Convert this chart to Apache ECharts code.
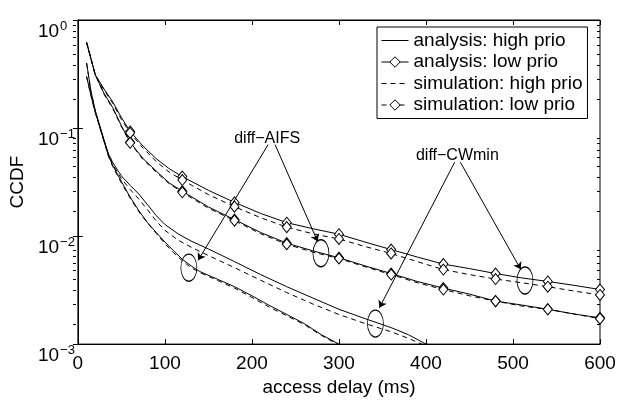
<!DOCTYPE html>
<html>
<head>
<meta charset="utf-8">
<script src="https://cdn.jsdelivr.net/npm/echarts@6/dist/echarts.min.js"></script>
<style>
html,body{margin:0;padding:0;background:#fff;}
#chart{width:619px;height:402px;}
</style>
</head>
<body>
<div id="chart"></div>
<script>
// ---------- data ----------
const xTickValues = [0, 100, 200, 300, 400, 500, 600];
const yDecades = [0.001, 0.01, 0.1, 1];

// low priority curves (diamond markers every 60 ms)
const lowX = [10, 20, 30, 40, 50, 60, 75, 90, 105, 120, 150, 180, 210, 240, 270, 300, 330, 360, 390, 420, 450, 480, 510, 540, 570, 600];
const cwLowAna  = [0.62, 0.31, 0.23, 0.175, 0.125, 0.093, 0.068, 0.052, 0.042, 0.0355, 0.0265, 0.0205, 0.0162, 0.0133, 0.0117, 0.0104, 0.0088, 0.0075, 0.0064, 0.0055, 0.0050, 0.0045, 0.0041, 0.0038, 0.0035, 0.0032];
const cwLowSim  = [0.62, 0.31, 0.225, 0.17, 0.12, 0.090, 0.065, 0.049, 0.039, 0.033, 0.0242, 0.0187, 0.0148, 0.0121, 0.0105, 0.0094, 0.0080, 0.0069, 0.0058, 0.0049, 0.0044, 0.0040, 0.0037, 0.0034, 0.0031, 0.00285];
const aifsLowAna = [0.62, 0.31, 0.21, 0.155, 0.105, 0.074, 0.052, 0.040, 0.031, 0.026, 0.0186, 0.0142, 0.0108, 0.0086, 0.0073, 0.0063, 0.0053, 0.0045, 0.0038, 0.0033, 0.0029, 0.0025, 0.0023, 0.0021, 0.0019, 0.00175];
const aifsLowSim = [0.62, 0.31, 0.205, 0.152, 0.103, 0.073, 0.051, 0.039, 0.0305, 0.0254, 0.0181, 0.0139, 0.0105, 0.0084, 0.0071, 0.0062, 0.0052, 0.0044, 0.0037, 0.0032, 0.0028, 0.0025, 0.00225, 0.0021, 0.0019, 0.00172];

// high priority curves (no markers)
const cwHighX = [10, 15, 20, 25, 30, 35, 40, 50, 60, 70, 80, 90, 100, 115, 130, 150, 180, 210, 240, 270, 300, 330, 360, 380, 400];
const cwHighAna = [0.40, 0.22, 0.145, 0.106, 0.078, 0.058, 0.048, 0.036, 0.0295, 0.0245, 0.0195, 0.0155, 0.0128, 0.0105, 0.0090, 0.0076, 0.0058, 0.0044, 0.0034, 0.00267, 0.0021, 0.00172, 0.00142, 0.00122, 0.00100];
const cwHighSim = [0.40, 0.215, 0.142, 0.103, 0.076, 0.057, 0.046, 0.034, 0.027, 0.022, 0.0175, 0.0138, 0.0113, 0.0092, 0.0079, 0.0066, 0.0051, 0.0039, 0.0030, 0.00235, 0.00188, 0.00155, 0.00130, 0.00113, 0.00096];
const aifsHighX = [10, 15, 20, 25, 30, 35, 40, 50, 60, 70, 80, 90, 100, 110, 120, 130, 140, 160, 180, 200, 220, 240, 260, 280, 300];
const aifsHighAna = [0.30, 0.20, 0.14, 0.104, 0.076, 0.056, 0.045, 0.032, 0.023, 0.0172, 0.0133, 0.0108, 0.0088, 0.0073, 0.0061, 0.0053, 0.0047, 0.0040, 0.0034, 0.0028, 0.00228, 0.00188, 0.00155, 0.00122, 0.00100];
const aifsHighSim = [0.30, 0.20, 0.138, 0.102, 0.075, 0.055, 0.044, 0.031, 0.0225, 0.0168, 0.0132, 0.0106, 0.0085, 0.0070, 0.0059, 0.0051, 0.0046, 0.0039, 0.0033, 0.0027, 0.0022, 0.00183, 0.00152, 0.00120, 0.00098];

const legendNames = ['analysis: high prio', 'analysis: low prio', 'simulation: high prio', 'simulation: low prio'];

// annotations in data coordinates [x, y]
const aifsLabel = [217.5, 0.0793];
const aifsArrows = [[[218.6, 0.0702], [138.1, 0.00596]], [[226.6, 0.0702], [275.5, 0.00891]]];
const aifsRings = [[127.5, 0.0051], [279.3, 0.00693]];
const cwLabel = [436.1, 0.0560];
const cwArrows = [[[433.0, 0.0483], [346.5, 0.00217]], [[439.5, 0.0483], [508.9, 0.00492]]];
const cwRings = [[341.9, 0.00155], [513.8, 0.00388]];

// ---------- chart ----------
const FONT = '"Liberation Sans", Arial, Helvetica, sans-serif';
const yMinor = [];
for (let d = -3; d < 0; d++) for (let k = 2; k <= 9; k++) yMinor.push(+(k * Math.pow(10, d)).toPrecision(3));

function pairs(xs, ys, markers) {
  return xs.map((x, i) => markers ? { value: [x, ys[i]], symbol: (x % 60 === 0) ? 'diamond' : 'none' } : [x, ys[i]]);
}
const dash = [5, 4];
function lineSeries(name, xs, ys, dashed, markers) {
  return {
    name: name, type: 'line', xAxisIndex: 0, yAxisIndex: 0,
    data: pairs(xs, ys, markers),
    symbol: markers ? 'diamond' : 'none',
    symbolSize: [9, 11],
    showSymbol: !!markers, showAllSymbol: true,
    lineStyle: { color: '#000', width: 1, type: dashed ? dash : 'solid' },
    itemStyle: { color: '#fff', borderColor: '#000', borderWidth: 1 },
    emphasis: { disabled: true },
    silent: true, z: 3
  };
}
const ellipsePath = 'path://M0,-1C0.5523,-1,1,-0.5523,1,0C1,0.5523,0.5523,1,0,1C-0.5523,1,-1,0.5523,-1,0C-1,-0.5523,-0.5523,-1,0,-1Z';

const yLabelFmt = function (v) {
  const e = Math.round(Math.log10(v));
  return '{b|10}{e|' + (e < 0 ? '\u2212' + (-e) : e) + '}';
};

const gridRect = { left: 73, top: 20, right: 19, bottom: 44 };
const option = {
  animation: false,
  backgroundColor: '#fff',
  textStyle: { fontFamily: FONT, color: '#000' },
  grid: [
    Object.assign({ show: true, borderColor: '#000', borderWidth: 1, backgroundColor: 'transparent', containLabel: false }, gridRect),
    Object.assign({ show: false }, gridRect)
  ],
  legend: {
    data: legendNames.map(n => n.indexOf('high') >= 0
      ? { name: n, itemStyle: { opacity: 0 }, lineStyle: { width: 1 } }
      : { name: n, itemStyle: { color: '#fff', borderColor: '#000', borderWidth: 1 }, lineStyle: { width: 1 } }),
    orient: 'vertical', left: 377, top: 27,
    itemWidth: 27, itemHeight: 13, itemGap: 2.5,
    padding: [4, 5, 4, 4],
    backgroundColor: '#fff', borderColor: '#000', borderWidth: 1, borderRadius: 0,
    selectedMode: false,
    lineStyle: { width: 1 },
    itemStyle: { borderWidth: 1 },
    textStyle: { fontFamily: FONT, fontSize: 19, color: '#000' }
  },
  xAxis: [
    { type: 'value', gridIndex: 0, position: 'bottom', min: 0, max: 600, interval: 100,
      name: 'access delay (ms)', nameLocation: 'middle', nameGap: 24,
      nameTextStyle: { fontFamily: FONT, fontSize: 19, color: '#000' },
      axisLine: { show: true, lineStyle: { color: '#000', width: 1 } },
      axisTick: { show: true, inside: true, length: 5, lineStyle: { color: '#000' }, customValues: xTickValues },
      axisLabel: { show: true, margin: 10, fontFamily: FONT, fontSize: 19, color: '#000', customValues: xTickValues, showMinLabel: true, showMaxLabel: true },
      splitLine: { show: false } },
    { type: 'value', gridIndex: 0, position: 'top', min: 0, max: 600, interval: 100,
      axisLine: { show: true, lineStyle: { color: '#000', width: 1 } },
      axisTick: { show: true, inside: true, length: 5, lineStyle: { color: '#000' } },
      axisLabel: { show: false }, splitLine: { show: false } },
    { type: 'value', gridIndex: 1, min: 0, max: 600, show: false }
  ],
  yAxis: [
    { type: 'log', logBase: 10, gridIndex: 0, position: 'left', min: 0.001, max: 1,
      name: 'CCDF', nameLocation: 'middle', nameGap: 50, nameRotate: 90,
      nameTextStyle: { fontFamily: FONT, fontSize: 19, color: '#000' },
      axisLine: { show: true, lineStyle: { color: '#000', width: 1 } },
      axisTick: { show: true, inside: true, length: 5, lineStyle: { color: '#000' }, customValues: yDecades },
      axisLabel: { show: true, align: 'left', margin: 40, color: '#000', customValues: yDecades,
        padding: [24, 0, 0, 0],
        formatter: yLabelFmt,
        rich: { b: { fontFamily: FONT, fontSize: 19, color: '#000' },
                e: { fontFamily: FONT, fontSize: 13, color: '#000', padding: [0, 0, 12, 1] } } },
      splitLine: { show: false } },
    { type: 'log', logBase: 10, gridIndex: 0, position: 'right', min: 0.001, max: 1,
      axisLine: { show: true, lineStyle: { color: '#000', width: 1 } },
      axisTick: { show: true, inside: true, length: 5, lineStyle: { color: '#000' }, customValues: yDecades },
      axisLabel: { show: false }, splitLine: { show: false } },
    { type: 'log', logBase: 10, gridIndex: 1, position: 'left', min: 0.001, max: 1,
      axisLine: { show: false },
      axisTick: { show: true, inside: true, length: 3, lineStyle: { color: '#000' }, customValues: yMinor },
      axisLabel: { show: false }, splitLine: { show: false } },
    { type: 'log', logBase: 10, gridIndex: 1, position: 'right', min: 0.001, max: 1,
      axisLine: { show: false },
      axisTick: { show: true, inside: true, length: 3, lineStyle: { color: '#000' }, customValues: yMinor },
      axisLabel: { show: false }, splitLine: { show: false } }
  ],
  series: [
    lineSeries('analysis: high prio', cwHighX, cwHighAna, false, false),
    lineSeries('analysis: high prio', aifsHighX, aifsHighAna, false, false),
    lineSeries('analysis: low prio', lowX, cwLowAna, false, true),
    lineSeries('analysis: low prio', lowX, aifsLowAna, false, true),
    lineSeries('simulation: high prio', cwHighX, cwHighSim, true, false),
    lineSeries('simulation: high prio', aifsHighX, aifsHighSim, true, false),
    lineSeries('simulation: low prio', lowX, cwLowSim, true, true),
    lineSeries('simulation: low prio', lowX, aifsLowSim, true, true),
    {
      name: 'annotations', type: 'line', xAxisIndex: 0, yAxisIndex: 0, data: [], silent: true, z: 4,
      markLine: {
        silent: true, animation: false, symbol: ['none', 'arrow'], symbolSize: 7,
        lineStyle: { color: '#000', width: 1, type: 'solid' }, label: { show: false },
        emphasis: { disabled: true },
        data: aifsArrows.concat(cwArrows).map(a => [{ coord: a[0] }, { coord: a[1] }])
      },
      markPoint: {
        silent: true, animation: false,
        data: aifsRings.concat(cwRings).map(p => ({
          coord: p, symbol: ellipsePath, symbolSize: [16, 27], symbolKeepAspect: false,
          itemStyle: { color: 'rgba(0,0,0,0)', borderColor: '#000', borderWidth: 1 },
          label: { show: false }
        })).concat([
          { coord: aifsLabel, name: 'diff\u2212AIFS' },
          { coord: cwLabel, name: 'diff\u2212CWmin' }
        ].map(t => ({
          coord: t.coord, symbol: 'rect', symbolSize: 1,
          itemStyle: { color: 'rgba(0,0,0,0)' },
          label: { show: true, position: 'inside', formatter: t.name, fontFamily: FONT, fontSize: 16, color: '#000' }
        })))
      }
    }
  ]
};

const chart = echarts.init(document.getElementById('chart'), null, { renderer: 'canvas' });
chart.setOption(option);
</script>
</body>
</html>
